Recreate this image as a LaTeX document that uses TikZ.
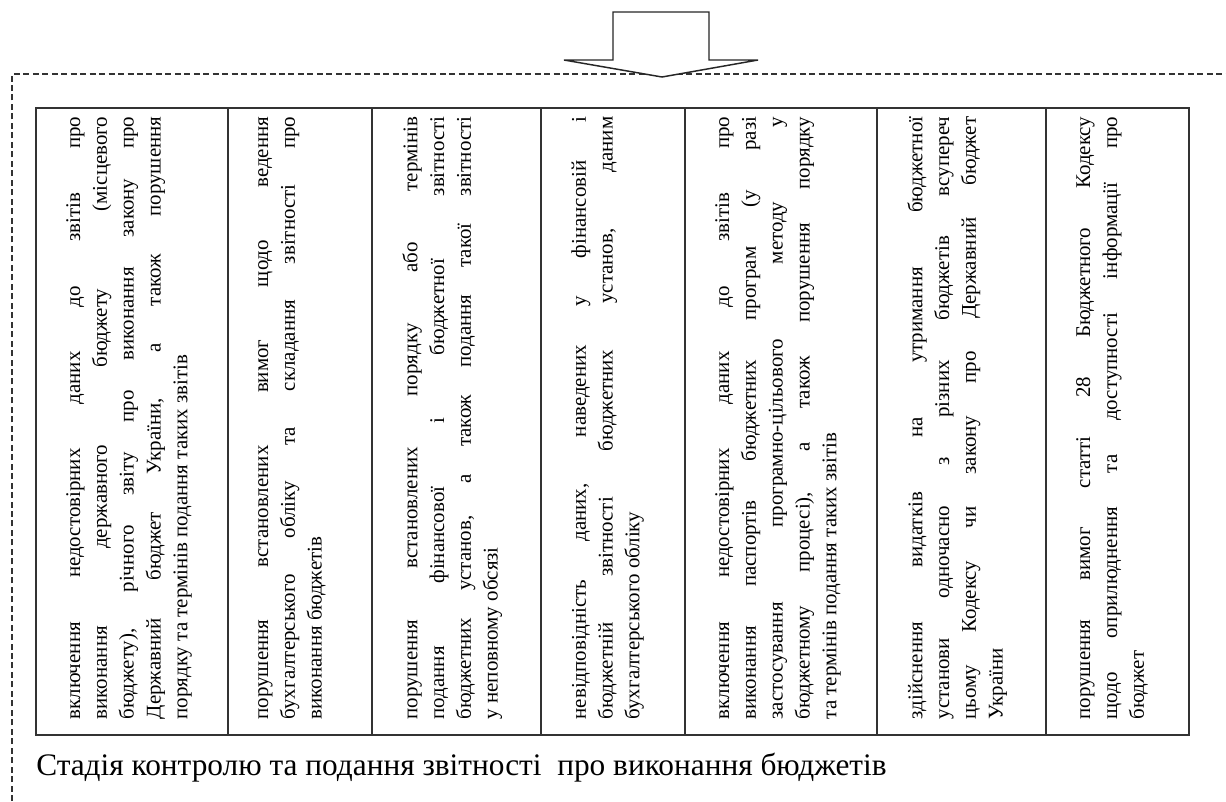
\documentclass[tikz,border=0pt]{standalone}
\usepackage{fontspec}
\setmainfont{Liberation Serif}
\hyphenpenalty=10000
\exhyphenpenalty=10000
\begin{document}
\begin{tikzpicture}[x=0.75pt,y=-0.75pt,
  cell/.style={rotate=90, anchor=north, inner sep=0pt, text width=452pt, align=justify,
    font=\fontsize{15.7}{20.1}\selectfont},
  tableline/.style={draw=black!80, line width=1.3pt},
  dashline/.style={dash pattern=on 4.5pt off 2.6pt, line width=1.1pt, draw=black!80},
  blockarrow/.style={draw=black!85, line width=1.1pt, fill=white, line join=miter},
  caption/.style={anchor=west, inner sep=0pt, font=\fontsize{23.5}{26}\selectfont}
]
\useasboundingbox (0,0) rectangle (1226,801);
% dashed frame
\coordinate (fa) at (12,801);
\coordinate (fb) at (12,74);
\coordinate (fc) at (1226,74);
\draw[dashline] (fa) -- (fb) -- (fc);
% block arrow
\draw[blockarrow] (613,12) -- (709,12) -- (709,60) -- (758,60) -- (662,77) -- (564,60) -- (613,60) -- cycle;
% table
\draw[tableline] (36,108) rectangle (1189,735);
\foreach \x in {228,372,541,685,877,1046} \draw[tableline] (\x,108) -- (\x,735);
% cells
\node[cell] (t1) at (66,418) {включення недостовірних даних до звітів про\linebreak виконання державного бюджету (місцевого\linebreak бюджету), річного звіту про виконання закону про\linebreak Державний бюджет України, а також порушення\linebreak порядку та термінів подання таких звітів};
\node[cell] (t2) at (258,418) {порушення встановлених вимог щодо ведення\linebreak бухгалтерського обліку та складання звітності про\linebreak виконання бюджетів};
\node[cell] (t3) at (402,418) {порушення встановлених порядку або термінів\linebreak подання фінансової і бюджетної звітності\linebreak бюджетних установ, а також подання такої звітності\linebreak у неповному обсязі};
\node[cell] (t4) at (571,418) {невідповідність даних, наведених у фінансовій і\linebreak бюджетній звітності бюджетних установ, даним\linebreak бухгалтерського обліку};
\node[cell] (t5) at (715,418) {включення недостовірних даних до звітів про\linebreak виконання паспортів бюджетних програм (у разі\linebreak застосування програмно-цільового методу у\linebreak бюджетному процесі), а також порушення порядку\linebreak та термінів подання таких звітів};
\node[cell] (t6) at (907,418) {здійснення видатків на утримання бюджетної\linebreak установи одночасно з різних бюджетів всупереч\linebreak цьому Кодексу чи закону про Державний бюджет\linebreak України};
\node[cell] (t7) at (1076,418) {порушення вимог статті 28 Бюджетного Кодексу\linebreak щодо оприлюднення та доступності інформації про\linebreak бюджет};
% caption
\node[caption] (cap) at (36,768) {Стадія контролю та подання звітності\ \ про виконання бюджетів};
\end{tikzpicture}
\end{document}
